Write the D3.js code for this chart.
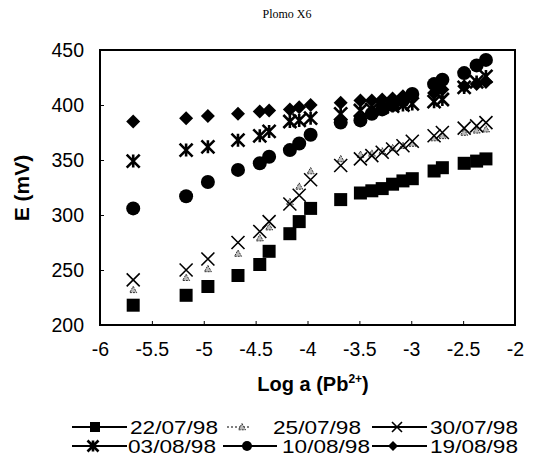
<!DOCTYPE html>
<html><head><meta charset="utf-8">
<script src="https://cdn.jsdelivr.net/npm/d3@7"></script>
<style>body{margin:0;background:#fff}svg{display:block}</style>
</head><body><svg id="c" width="534" height="467"></svg>
<script>
// ---- data ----
const xVals = [-5.68, -5.17, -4.96, -4.67, -4.46, -4.37, -4.17, -4.08, -3.97, -3.68, -3.49, -3.38, -3.28, -3.18, -3.08, -2.99, -2.78, -2.70, -2.49, -2.37, -2.28];
const s220798 = [218, 227, 235, 245, 255, 267, 283, 294, 306, 314, 320, 322, 324, 328, 331, 333, 340, 343, 347, 349, 351];
const s250798 = [232, 243, 251, 265, 279, 289, 312, 326, 340, 351, 355, 356, 358, 361, 363, 365, 370, 372, 375, 377, 378];
const s300798 = [241, 250, 260, 275, 285, 294, 310, 318, 332, 345, 351, 354, 357, 360, 363, 367, 372, 375, 379, 381, 384];
const s030898 = [349, 359, 362, 368, 372, 376, 385, 386, 388, 392, 395, 396, 398, 399, 400, 401, 403, 405, 416, 421, 426];
const s100898 = [306, 317, 330, 341, 347, 353, 359, 365, 373, 384, 386, 392, 396, 400, 404, 410, 419, 423, 429, 436, 441];
const s190898 = [385, 388, 390, 392, 394, 395, 396, 398, 400, 402, 404, 404, 405, 406, 408, 409, 411, 414, 417, 419, 421];
const seriesNames = ["22/07/98", "25/07/98", "30/07/98", "03/08/98", "10/08/98", "19/08/98"];
const xTicks = [-6, -5.5, -5, -4.5, -4, -3.5, -3, -2.5, -2];
const yTicks = [200, 250, 300, 350, 400, 450];
const titleText = "Plomo X6";
const xTitle = "Log a (Pb";
const xTitleSup = "2+";
const xTitleEnd = ")";
const yTitle = "E (mV)";

// ---- chart ----
const svg = d3.select("#c");
const x = d3.scaleLinear().domain([-6, -2]).range([100, 515]);
const y = d3.scaleLinear().domain([200, 450]).range([325, 50]);
const SANS = "Arial, 'Liberation Sans', sans-serif";

const series = [
  {name: seriesNames[0], vals: s220798, shape: "square"},
  {name: seriesNames[1], vals: s250798, shape: "triangle"},
  {name: seriesNames[2], vals: s300798, shape: "x"},
  {name: seriesNames[3], vals: s030898, shape: "asterisk"},
  {name: seriesNames[4], vals: s100898, shape: "circle"},
  {name: seriesNames[5], vals: s190898, shape: "diamond"}
];

function drawMarker(g, shape, cx, cy, s) {
  const h = s / 2;
  if (shape === "square") {
    g.append("rect").attr("x", cx - h).attr("y", cy - h).attr("width", s).attr("height", s).attr("fill", "#000");
  } else if (shape === "circle") {
    g.append("circle").attr("cx", cx).attr("cy", cy).attr("r", h).attr("fill", "#000");
  } else if (shape === "diamond") {
    g.append("path").attr("d", `M${cx},${cy - h}L${cx + h},${cy}L${cx},${cy + h}L${cx - h},${cy}Z`).attr("fill", "#000");
  } else if (shape === "x") {
    g.append("path").attr("d", `M${cx - h},${cy - h}L${cx + h},${cy + h}M${cx + h},${cy - h}L${cx - h},${cy + h}`)
      .attr("stroke", "#000").attr("stroke-width", 1.6).attr("fill", "none");
  } else if (shape === "asterisk") {
    g.append("path").attr("d", `M${cx - h},${cy - h}L${cx + h},${cy + h}M${cx + h},${cy - h}L${cx - h},${cy + h}M${cx},${cy - h}L${cx},${cy + h}`)
      .attr("stroke", "#000").attr("stroke-width", 2.6).attr("fill", "none");
  } else if (shape === "triangle") {
    g.append("path").attr("d", `M${cx},${cy - h}L${cx + h},${cy + h * 0.8}L${cx - h},${cy + h * 0.8}Z`)
      .attr("stroke", "#333").attr("stroke-width", 1).attr("fill", "#bbb").attr("stroke-dasharray", "2,1");
  }
}

const markerSize = {square: 13, circle: 14, diamond: 14, x: 13, asterisk: 13, triangle: 7};

// frame
svg.append("rect").attr("x", x(-6)).attr("y", y(450)).attr("width", x(-2) - x(-6)).attr("height", y(200) - y(450))
  .attr("fill", "none").attr("stroke", "#000").attr("stroke-width", 2);

// axes
const yAxis = d3.axisLeft(y).tickValues(yTicks).tickSize(-4).tickPadding(16).tickFormat(d => String(d));
const gy = svg.append("g").attr("transform", `translate(${x(-6)},0)`).call(yAxis);
gy.select(".domain").remove();
gy.selectAll("text").attr("font-family", SANS).attr("font-size", 19.5).attr("fill", "#000");
gy.selectAll("line").attr("stroke", "#000");

const xAxis = d3.axisBottom(x).tickValues(xTicks).tickSize(-4).tickPadding(17).tickFormat(d => String(d));
const gx = svg.append("g").attr("transform", `translate(0,${y(200)})`).call(xAxis);
gx.select(".domain").remove();
gx.selectAll("text").attr("font-family", SANS).attr("font-size", 19.5).attr("fill", "#000");
gx.selectAll("line").attr("stroke", "#000");

// points
const gp = svg.append("g");
series.forEach(s => {
  s.vals.forEach((v, i) => drawMarker(gp, s.shape, x(xVals[i]), y(v), markerSize[s.shape]));
});

// titles
svg.append("text").attr("x", 287).attr("y", 18).attr("text-anchor", "middle")
  .attr("font-family", "'Liberation Serif', 'Times New Roman', serif").attr("font-size", 12).text(titleText);

const xt = svg.append("text").attr("x", 313).attr("y", 391).attr("text-anchor", "middle")
  .attr("font-family", SANS).attr("font-size", 20).attr("font-weight", "bold");
xt.append("tspan").text(xTitle);
xt.append("tspan").attr("font-size", 12).attr("dy", -8).text(xTitleSup);
xt.append("tspan").attr("dy", 8).text(xTitleEnd);

svg.append("text").attr("transform", "translate(29,188) rotate(-90)").attr("text-anchor", "middle")
  .attr("font-family", SANS).attr("font-size", 21).attr("font-weight", "bold").text(yTitle);

// legend
const legendPos = [
  {lx1: 72, lx2: 127, mx: 95, tx: 130, ty: 434},
  {lx1: 227, lx2: 250, mx: 242, tx: 273, ty: 434},
  {lx1: 372, lx2: 427, mx: 397, tx: 430, ty: 434},
  {lx1: 72, lx2: 127, mx: 93, tx: 128, ty: 453},
  {lx1: 223, lx2: 277, mx: 247, tx: 282, ty: 453},
  {lx1: 372, lx2: 427, mx: 393, tx: 430, ty: 453}
];
const legendMarker = {square: 10, circle: 10, diamond: 10, x: 10, asterisk: 11, triangle: 7};
const gl = svg.append("g");
series.forEach((s, i) => {
  const p = legendPos[i];
  const cy = p.ty - 7;
  gl.append("line").attr("x1", p.lx1).attr("x2", p.lx2).attr("y1", cy).attr("y2", cy)
    .attr("stroke", "#000").attr("stroke-width", s.shape === "triangle" ? 1 : 1.8)
    .attr("stroke-dasharray", s.shape === "triangle" ? "2,2" : null);
  drawMarker(gl, s.shape, p.mx, cy, legendMarker[s.shape]);
  gl.append("text").attr("x", p.tx).attr("y", p.ty)
    .attr("font-family", SANS).attr("font-size", 19)
    .attr("textLength", 88).attr("lengthAdjust", "spacingAndGlyphs").text(s.name);
});
</script></body></html>
